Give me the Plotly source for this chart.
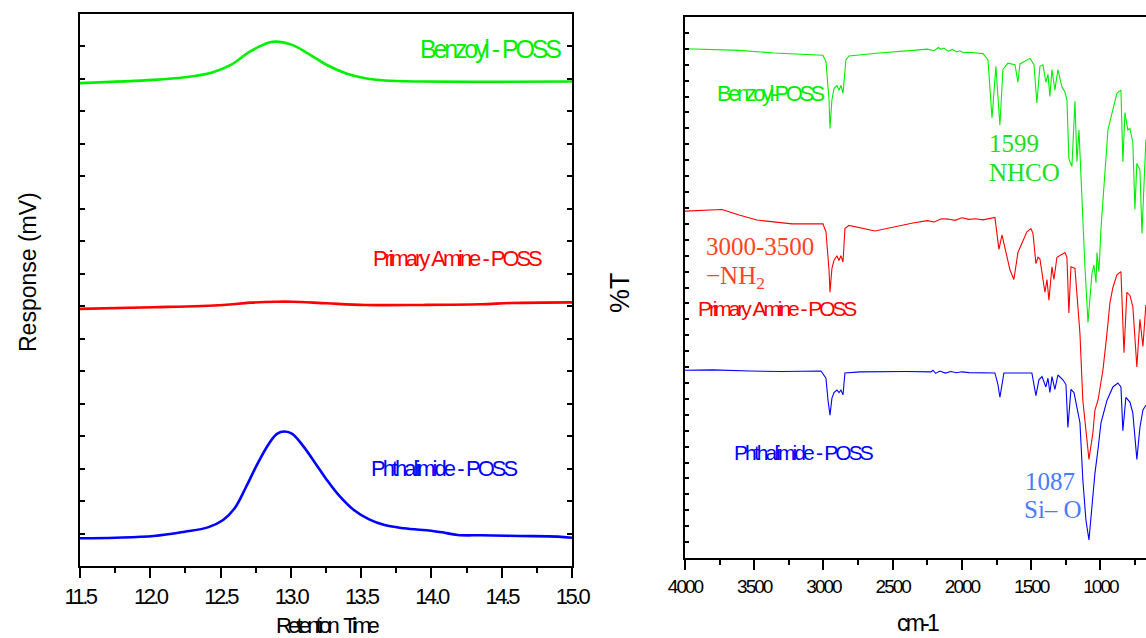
import plotly.graph_objects as go

W, H = 1146, 638

# ---------------- GPC data (left panel) ----------------
gpc_time_benzoyl = [11.5, 12.025, 12.244, 12.435, 12.573, 12.709, 12.846, 12.901, 13.01, 13.12, 13.256, 13.394, 13.53, 13.667, 13.94, 14.488, 15.0]
gpc_resp_benzoyl = [14.87, 14.97, 15.05, 15.19, 15.43, 15.84, 16.12, 16.15, 16.05, 15.79, 15.43, 15.17, 15.02, 14.95, 14.92, 14.91, 14.92]

gpc_time_amine = [11.5, 12.025, 12.518, 12.709, 12.901, 13.01, 13.256, 13.53, 13.94, 14.35, 14.57, 15.0]
gpc_resp_amine = [7.92, 7.97, 8.04, 8.11, 8.14, 8.14, 8.09, 8.04, 8.04, 8.06, 8.10, 8.12]

gpc_time_phthal = [11.5, 11.752, 12.025, 12.244, 12.41, 12.518, 12.6, 12.682, 12.764, 12.846, 12.901, 12.956, 13.01, 13.092, 13.175, 13.256, 13.339, 13.448, 13.557, 13.667, 13.804, 13.996, 14.078, 14.187, 14.351, 14.625, 14.898, 15.0]
gpc_resp_phthal = [0.853, 0.872, 0.924, 1.056, 1.19, 1.417, 1.777, 2.44, 3.16, 3.78, 4.07, 4.14, 4.07, 3.67, 3.16, 2.65, 2.19, 1.725, 1.437, 1.26, 1.16, 1.087, 1.037, 0.955, 0.945, 0.924, 0.904, 0.872]

gpc_ticks = [11.5, 12.0, 12.5, 13.0, 13.5, 14.0, 14.5, 15.0]
gpc_ticktext = ["11.5", "12.0", "12.5", "13.0", "13.5", "14.0", "14.5", "15.0"]

# ---------------- FTIR data (right panel) ----------------
ftir_wn_benzoyl = [4000, 3610, 3357, 3004, 2982, 2960, 2953, 2939, 2924, 2903, 2888, 2874, 2859, 2838, 2816, 2599, 2354,
                   2250, 2200, 2170, 2152, 2130, 2100, 2070, 2040, 2014, 1990, 1950, 1848, 1812, 1783, 1755, 1726, 1704,
                   1668, 1617, 1596, 1581, 1509, 1480, 1459, 1437, 1415, 1394, 1379, 1365, 1350, 1329, 1307, 1278, 1257,
                   1242, 1228, 1206, 1184, 1170, 1155, 1127, 1112, 1090, 1061, 1047, 1032, 1025, 1011, 996, 975, 946,
                   910, 881, 852, 838, 823, 802, 787, 766, 751, 737, 715, 700, 672]
ftir_t_benzoyl = [32.0, 31.9, 31.74, 31.6, 31.2, 28.8, 27.0, 28.8, 29.5, 29.7, 29.4, 29.7, 29.2, 31.3, 31.55, 31.74, 31.9,
                  31.98, 31.88, 32.08, 31.97, 32.05, 31.85, 31.96, 31.8, 31.88, 31.76, 31.78, 31.7, 31.3, 27.65, 30.9, 27.2, 30.7,
                  31.1, 31.0, 29.9, 31.05, 31.4, 31.0, 28.6, 30.9, 31.0, 29.9, 30.4, 29.0, 30.7, 29.4, 30.7, 29.6, 29.3,
                  28.8, 25.1, 24.6, 28.7, 24.9, 26.9, 20.6, 18.3, 14.8, 17.9, 18.4, 17.3, 19.2, 18.0, 20.7, 23.6, 26.9,
                  28.2, 29.2, 29.4, 24.9, 28.0, 26.9, 27.0, 26.1, 21.9, 24.8, 24.4, 20.4, 26.3]

ftir_wn_amine = [4000, 3733, 3610, 3480, 3227, 3004, 2982, 2960, 2953, 2939, 2924, 2903, 2888, 2874, 2859, 2845, 2816, 2628,
                 2354, 2250, 2200, 2150, 2101, 2050, 2000, 1950, 1900, 1848, 1762, 1733, 1711, 1690, 1653, 1625, 1596,
                 1531, 1502, 1487, 1466, 1451, 1437, 1401, 1386, 1372, 1350, 1336, 1314, 1256, 1242, 1228, 1213, 1184,
                 1170, 1148, 1127, 1098, 1083, 1054, 1040, 1018, 982, 953, 932, 910, 881, 852, 830, 809, 787, 766, 737,
                 715, 693, 672]
ftir_t_amine = [21.8, 21.9, 21.56, 21.24, 21.0, 21.0, 20.5, 18.1, 16.7, 18.2, 18.7, 19.0, 18.7, 19.0, 18.6, 20.7, 20.9, 20.55,
                21.05, 21.2, 21.12, 21.32, 21.3, 21.22, 21.38, 21.28, 21.32, 21.25, 21.4, 19.4, 20.3, 19.5, 18.1, 17.5, 19.2,
                20.5, 20.7, 20.4, 18.5, 18.9, 18.8, 16.7, 17.5, 16.2, 18.3, 17.5, 18.9, 19.2, 18.9, 15.4, 18.3, 18.2,
                16.5, 14.1, 9.9, 7.4, 6.2, 7.9, 9.3, 9.9, 11.8, 14.1, 16.0, 17.0, 17.8, 18.0, 12.9, 16.7, 16.5, 15.8, 12.0,
                15.0, 13.3, 15.9]

ftir_wn_phthal = [4000, 3800, 3531, 3300, 3018, 2982, 2967, 2953, 2939, 2924, 2903, 2888, 2874, 2859, 2845, 2736, 2400, 2224,
                  2210, 2190, 2160, 2120, 2080, 2040, 2000, 1950, 1762, 1740, 1726, 1711, 1697, 1495, 1466, 1444, 1422,
                  1394, 1379, 1365, 1350, 1329, 1307, 1271, 1249, 1235, 1213, 1191, 1170, 1148, 1127, 1105, 1083, 1061,
                  1040, 1018, 996, 953, 910, 874, 852, 838, 816, 787, 766, 737, 715, 693, 672]
ftir_t_phthal = [11.8, 11.82, 11.75, 11.72, 11.75, 11.3, 9.9, 8.98, 10.05, 10.4, 10.56, 10.4, 10.56, 10.25, 11.63, 11.7, 11.72, 11.7,
                 11.8, 11.6, 11.75, 11.62, 11.72, 11.64, 11.7, 11.65, 11.63, 10.9, 10.1, 10.9, 11.63, 11.63, 10.2, 11.2, 11.4,
                 10.75, 11.3, 10.4, 11.4, 10.6, 11.5, 11.2, 10.9, 8.2, 10.6, 10.4, 9.4, 8.5, 4.9, 2.4, 1.13, 3.2,
                 5.3, 6.8, 8.5, 9.9, 10.75, 11.0, 10.75, 8.0, 10.1, 9.8, 9.1, 6.2, 8.2, 9.3, 9.6]

ftir_ticks = [4000, 3500, 3000, 2500, 2000, 1500, 1000]
ftir_ticktext = ["4000", "3500", "3000", "2500", "2000", "1500", "1000"]

GREEN, RED, BLUE = "#00ee00", "#ff0000", "#0000ff"
SANS = "Liberation Sans, Arial, sans-serif"
SERIF = "Liberation Serif, Times New Roman, serif"
SP = "\u2004"
SPW = "\u2002"


def sq(t, ls):
    return f'<span style="letter-spacing:{ls}px">{t}</span>'


def px(x):
    return x / W


def py(y):
    return 1 - y / H


fig = go.Figure()

for xs, ys, c in [(gpc_time_benzoyl, gpc_resp_benzoyl, GREEN),
                  (gpc_time_amine, gpc_resp_amine, RED),
                  (gpc_time_phthal, gpc_resp_phthal, BLUE)]:
    fig.add_trace(go.Scatter(x=xs, y=ys, mode="lines", xaxis="x", yaxis="y",
                             line=dict(color=c, width=2.6, shape="spline", smoothing=1.0),
                             showlegend=False, hoverinfo="skip"))

for xs, ys, c in [(ftir_wn_benzoyl, ftir_t_benzoyl, GREEN),
                  (ftir_wn_amine, ftir_t_amine, RED),
                  (ftir_wn_phthal, ftir_t_phthal, BLUE)]:
    fig.add_trace(go.Scatter(x=xs, y=ys, mode="lines", xaxis="x2", yaxis="y2",
                             line=dict(color=c, width=1.1),
                             showlegend=False, hoverinfo="skip"))

L_dom_x = [px(80), px(572)]
L_dom_y = [py(566), py(14)]
R_dom_x = [px(685), 1.0]
R_dom_y = [py(558), py(17)]

tickfont_l = dict(family=SANS, size=22, color="black")
tickfont_r = dict(family=SANS, size=19, color="black")

fig.update_layout(
    width=W, height=H, autosize=False,
    margin=dict(l=0, r=0, t=0, b=0, pad=0, autoexpand=False),
    paper_bgcolor="white", plot_bgcolor="white",
    xaxis=dict(domain=L_dom_x, anchor="y", range=[11.5, 15.0], automargin=False,
               tickmode="array", tickvals=gpc_ticks, ticktext=[sq(t, -2.6) for t in gpc_ticktext],
               tickfont=tickfont_l, ticks="outside", ticklen=10, tickwidth=1.5, tickcolor="black",
               minor=dict(ticks="outside", ticklen=5, tickwidth=1.5, tickcolor="black", dtick=0.25, tick0=11.5),
               showline=True, linewidth=2, linecolor="black", mirror=True,
               showgrid=False, zeroline=False, fixedrange=True),
    xaxis3=dict(overlaying="x", anchor="y", side="top", range=[11.5, 15.0], automargin=False,
                tickmode="linear", tick0=11.5, dtick=0.25, ticks="inside", ticklen=5, tickwidth=1.5,
                tickcolor="black", showticklabels=False, showline=False, showgrid=False, zeroline=False),
    yaxis=dict(domain=L_dom_y, anchor="x", range=[0, 17], tickmode="linear", tick0=0, dtick=1, automargin=False,
               ticks="inside", ticklen=5, tickwidth=1.5, tickcolor="black", showticklabels=False,
               showline=True, linewidth=2, linecolor="black", mirror="ticks",
               showgrid=False, zeroline=False, fixedrange=True),
    xaxis2=dict(domain=R_dom_x, anchor="y2", range=[4000, 671], automargin=False,
                tickmode="array", tickvals=ftir_ticks, ticktext=[sq(t, -2) for t in ftir_ticktext],
                tickfont=tickfont_r, ticks="outside", ticklen=10, tickwidth=1.5, tickcolor="black",
                minor=dict(ticks="outside", ticklen=5, tickwidth=1.5, tickcolor="black", dtick=250, tick0=4000),
                showline=True, linewidth=2, linecolor="black", mirror=True,
                showgrid=False, zeroline=False, fixedrange=True),
    xaxis4=dict(overlaying="x2", anchor="y2", side="top", range=[4000, 671], automargin=False,
                tickmode="linear", tick0=4000, dtick=-250, ticks="inside", ticklen=5, tickwidth=1.5,
                tickcolor="black", showticklabels=False, showline=False, showgrid=False, zeroline=False),
    yaxis2=dict(domain=R_dom_y, anchor="x2", range=[0, 34], tickmode="linear", tick0=0, dtick=1, automargin=False,
                ticks="inside", ticklen=4, tickwidth=1.5, tickcolor="black", showticklabels=False,
                showline=True, linewidth=2, linecolor="black", mirror=False,
                showgrid=False, zeroline=False, fixedrange=True),
)

ann = []


def add(text, x, y, size, color, family=SANS, xanchor="center", angle=0):
    ann.append(dict(text=text, x=px(x), y=py(y), xref="paper", yref="paper",
                    xanchor=xanchor, yanchor="middle", showarrow=False, textangle=angle,
                    font=dict(family=family, size=size, color=color)))


# left panel texts
add(sq("Benzoyl" + SP + "-" + SP + "POSS", -3.2), 490, 49, 25, GREEN)
add(sq("Primary" + SP + "Amine" + SP + "-" + SP + "POSS", -3.1), 457, 258, 22, RED)
add(sq("Phthalimide" + SP + "-" + SP + "POSS", -3.0), 444, 468, 22, BLUE)
add("Response (mV)", 28, 272, 23, "black", angle=-90)
add(sq("Retention" + SPW + "Time", -3.8), 328, 625, 22, "black")

# right panel texts
add(sq("Benzoyl-POSS", -3.5), 715, 93, 22, GREEN, xanchor="left")
add(sq("Primary" + SP + "Amine" + SP + "-" + SP + "POSS", -3.1), 696, 308, 21, RED, xanchor="left")
add(sq("Phthalimide" + SP + "-" + SP + "POSS", -2.9), 732, 452, 21, BLUE, xanchor="left")
add("%T", 620, 293, 27, "black", angle=-90)
add(sq("cm-1", -2.8), 918, 623, 23, "black")

add("3000-3500", 704, 246, 25, "#ff4422", family=SERIF, xanchor="left")
add("\u2212NH<sub>2</sub>", 704, 278, 25, "#ff4422", family=SERIF, xanchor="left")
add("1599", 987, 143, 25, "#22dd22", family=SERIF, xanchor="left")
add("NHCO", 987, 172, 25, "#22dd22", family=SERIF, xanchor="left")
add("1087", 1023, 482, 25, "#4a7bff", family=SERIF, xanchor="left")
add("Si\u2013 O", 1022, 509, 25, "#4a7bff", family=SERIF, xanchor="left")

fig.update_layout(annotations=ann)

fig.write_html("out.html")
